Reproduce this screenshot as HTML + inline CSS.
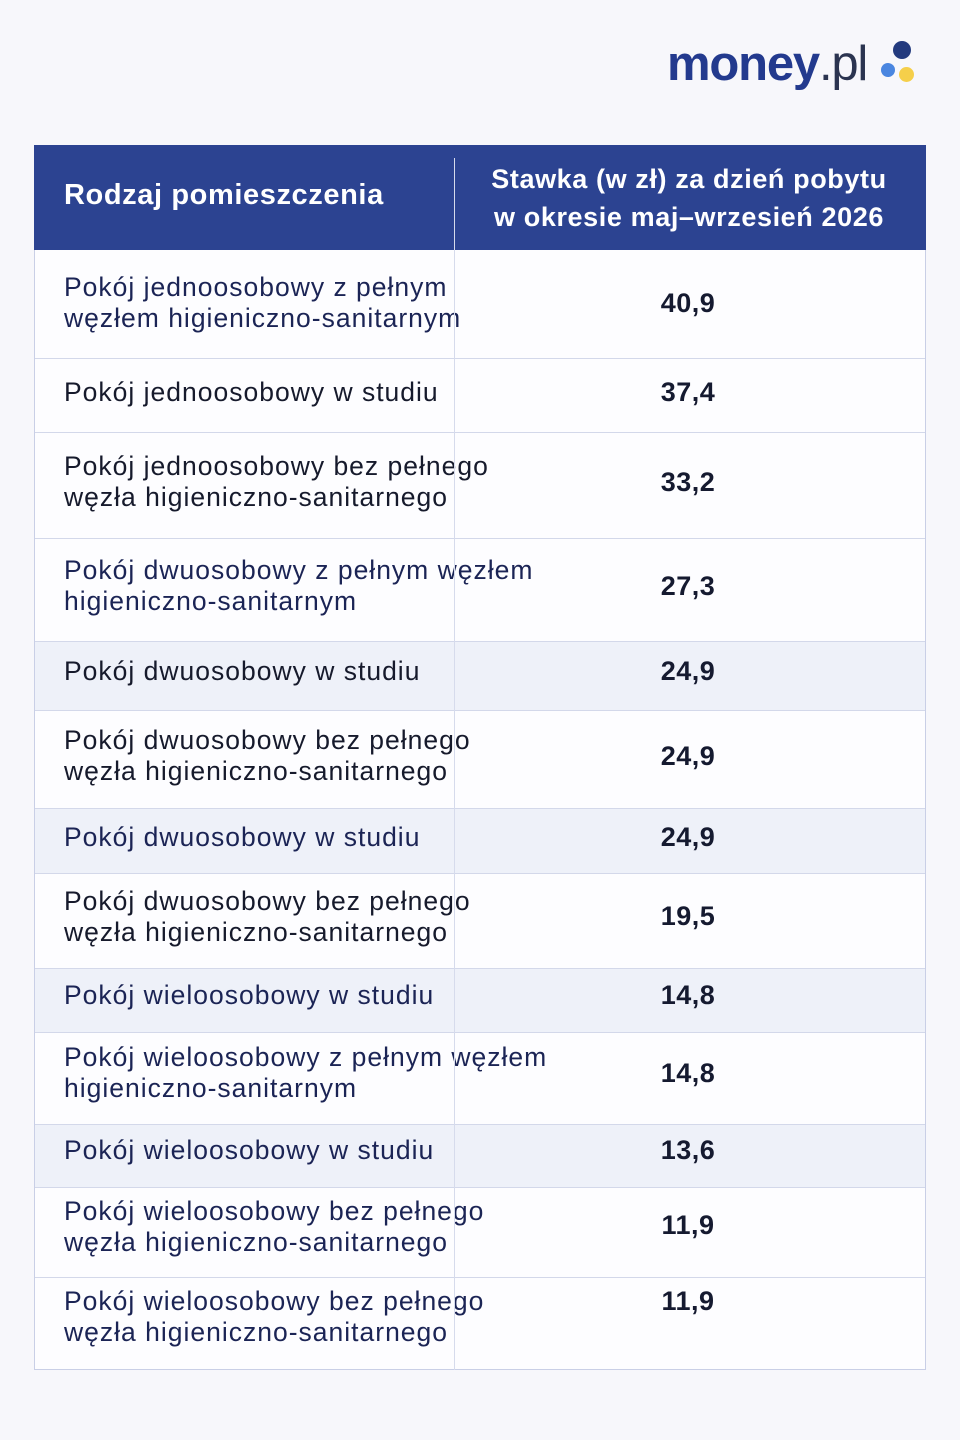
<!DOCTYPE html>
<html><head><meta charset="utf-8"><style>
body{margin:0;width:960px;height:1440px;background:#f7f7fb;position:relative;font-family:"Liberation Sans","DejaVu Sans",sans-serif;overflow:hidden}
.logo{position:absolute;left:667px;top:36px;font-size:49px;font-weight:bold;color:#233a8e;letter-spacing:-1.2px}
.logo span{font-weight:normal;color:#2b3450}
.dot{position:absolute;border-radius:50%}
.tbl{position:absolute;left:34px;top:145px;width:892px;height:1225px;border:1px solid #c9cfe6;box-sizing:border-box;background:#fdfdff}
.hd{position:absolute;left:34px;top:145px;width:892px;height:105px;background:#2c4391;color:#fff;font-weight:bold}
.row{position:absolute;left:35px;width:890px;border-top:1px solid #d3d8ea;box-sizing:border-box}
.row.s{background:#eef1f9}
.t{position:absolute;left:29px;font-size:26.5px;line-height:31px;letter-spacing:1px;color:#1b2455;white-space:nowrap}
.v{position:absolute;left:590px;width:126px;text-align:center;font-size:27px;font-weight:bold;color:#151a30;letter-spacing:0.5px}
.div{position:absolute;left:454px;top:158px;width:1px;height:1212px;background:#d6dbec}
</style></head><body>
<div class="logo">money<span>.pl</span></div>
<div class="dot" style="left:893px;top:41px;width:18px;height:18px;background:#233a7e"></div>
<div class="dot" style="left:881px;top:63px;width:14px;height:14px;background:#4a86e0"></div>
<div class="dot" style="left:899px;top:67px;width:15px;height:15px;background:#f5cf4a"></div>
<div class="tbl"></div>
<div class="hd">
<div style="position:absolute;left:30px;top:34px;font-size:29px;letter-spacing:0.6px">Rodzaj pomieszczenia</div>
<div style="position:absolute;left:430px;width:450px;top:15px;font-size:27px;line-height:38px;letter-spacing:0.6px;text-align:center">Stawka (w zł) za dzień pobytu<br>w okresie maj–wrzesień 2026</div>
</div>
<div class="row" style="top:250px;height:108px;border-top:none"><div class="t" style="top:22px">Pokój jednoosobowy z pełnym<br>węzłem higieniczno-sanitarnym</div><div class="v" style="top:38px">40,9</div></div>
<div class="row" style="top:358px;height:74px"><div class="t" style="top:18px;color:#161a2c">Pokój jednoosobowy w studiu</div><div class="v" style="top:18px">37,4</div></div>
<div class="row" style="top:432px;height:106px"><div class="t" style="top:18px;color:#161a2c">Pokój jednoosobowy bez pełnego<br>węzła higieniczno-sanitarnego</div><div class="v" style="top:34px">33,2</div></div>
<div class="row" style="top:538px;height:103px"><div class="t" style="top:16px">Pokój dwuosobowy z pełnym węzłem<br>higieniczno-sanitarnym</div><div class="v" style="top:32px">27,3</div></div>
<div class="row s" style="top:641px;height:69px"><div class="t" style="top:14px;color:#161a2c">Pokój dwuosobowy w studiu</div><div class="v" style="top:14px">24,9</div></div>
<div class="row" style="top:710px;height:98px"><div class="t" style="top:14px;color:#161a2c">Pokój dwuosobowy bez pełnego<br>węzła higieniczno-sanitarnego</div><div class="v" style="top:30px">24,9</div></div>
<div class="row s" style="top:808px;height:65px"><div class="t" style="top:13px">Pokój dwuosobowy w studiu</div><div class="v" style="top:13px">24,9</div></div>
<div class="row" style="top:873px;height:95px"><div class="t" style="top:12px;color:#161a2c">Pokój dwuosobowy bez pełnego<br>węzła higieniczno-sanitarnego</div><div class="v" style="top:27px">19,5</div></div>
<div class="row s" style="top:968px;height:64px"><div class="t" style="top:11px">Pokój wieloosobowy w studiu</div><div class="v" style="top:11px">14,8</div></div>
<div class="row" style="top:1032px;height:92px"><div class="t" style="top:9px">Pokój wieloosobowy z pełnym węzłem<br>higieniczno-sanitarnym</div><div class="v" style="top:25px">14,8</div></div>
<div class="row s" style="top:1124px;height:63px"><div class="t" style="top:10px">Pokój wieloosobowy w studiu</div><div class="v" style="top:10px">13,6</div></div>
<div class="row" style="top:1187px;height:90px"><div class="t" style="top:8px">Pokój wieloosobowy bez pełnego<br>węzła higieniczno-sanitarnego</div><div class="v" style="top:22px">11,9</div></div>
<div class="row" style="top:1277px;height:92px"><div class="t" style="top:8px">Pokój wieloosobowy bez pełnego<br>węzła higieniczno-sanitarnego</div><div class="v" style="top:8px">11,9</div></div>
<div class="div"></div>
</body></html>
